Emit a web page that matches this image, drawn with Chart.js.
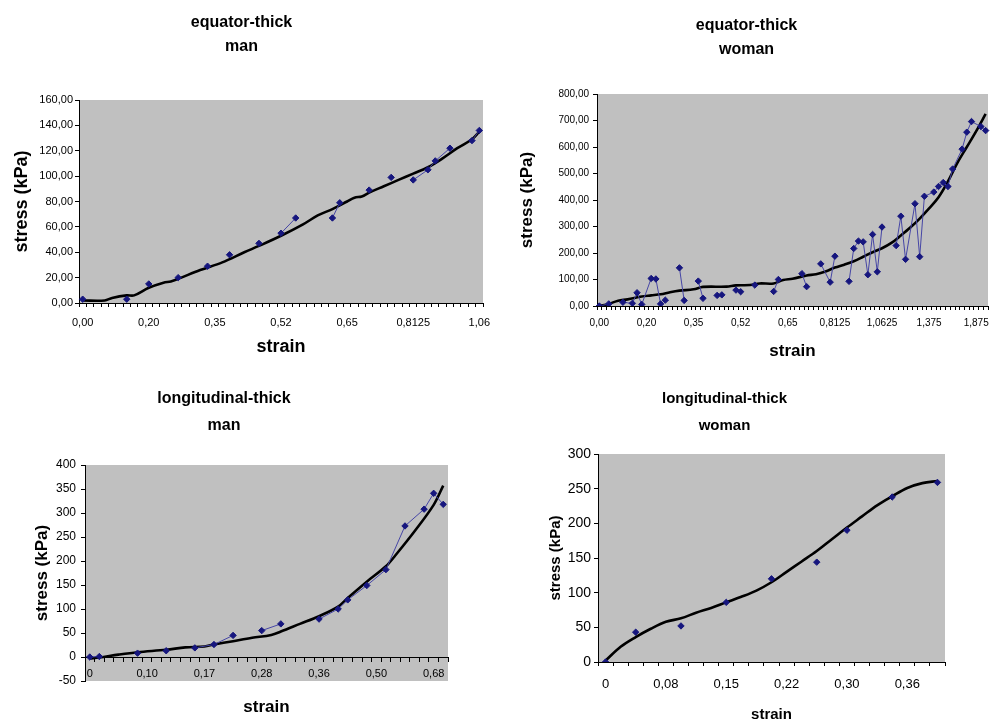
<!DOCTYPE html>
<html>
<head>
<meta charset="utf-8">
<title>stress - strain</title>
<script src="https://cdn.jsdelivr.net/npm/chart.js@4.4.1/dist/chart.umd.min.js"></script>
<style>
  html, body { margin: 0; padding: 0; background: #fff; overflow: hidden; width: 994px; height: 724px; }
  canvas { position: absolute; }
</style>
</head>
<body>
<canvas id="eqMan"></canvas>
<canvas id="eqWoman"></canvas>
<canvas id="lgMan"></canvas>
<canvas id="lgWoman"></canvas>
<script>
const FONT = '"Liberation Sans", Arial, sans-serif';

// equator-thick / man  (55 categories, label every 9th)
const eqManTicks = ['0,00', '0,20', '0,35', '0,52', '0,65', '0,8125', '1,06'];
const eqManIdx = [0, 6, 9, 13, 17, 20, 24, 27, 29, 34, 35, 39, 42, 45, 47, 48, 50, 53, 54];
const eqManStress = [3, 3, 15, 20, 29, 38, 47, 55, 67, 67, 79, 89, 99, 97, 105, 112, 122, 128, 136];
const eqManFitIdx = [0, 3, 4, 6, 7, 9, 11, 12, 13, 16, 19, 22, 24, 27, 30, 32, 34, 36, 37, 38, 39, 41, 43, 45, 47, 49, 51, 53, 54];
const eqManFit = [2, 2, 4, 6, 6, 12, 16, 17, 19, 26, 32, 40, 45, 53, 62, 69, 74, 80, 83, 84, 87, 92, 97, 102, 107, 114, 122, 129, 135];

// equator-thick / woman  (83 categories, label every 10th)
const eqWomTicks = ['0,00', '0,20', '0,35', '0,52', '0,65', '0,8125', '1,0625', '1,375', '1,875'];
const eqWomIdx = [0, 2, 5, 7, 8, 9, 11, 12, 13, 14, 17, 18, 21, 22, 25, 26, 29, 30, 33, 37, 38, 43, 44, 47, 49, 50,
  53, 54, 55, 56, 57, 58, 59, 60, 63, 64, 65, 67, 68, 69, 71, 72, 73, 74, 75, 77, 78, 79, 81, 82];
const eqWomStress = [0, 8, 14, 10, 50, 6, 104, 102, 8, 22, 144, 21, 94, 29, 40, 42, 60, 54, 79, 55, 100, 122, 73, 159, 90, 188,
  93, 217, 245, 242, 118, 270, 129, 298, 228, 339, 176, 386, 186, 414, 430, 451, 466, 451, 517, 592, 656, 696, 677, 662];
const eqWomFitIdx = [0, 2, 4, 6, 9, 11, 13, 15, 17, 20, 22, 27, 29, 32, 34, 37, 39, 41, 44, 46, 48, 50, 52, 54, 56, 58, 60,
  62, 64, 66, 68, 70, 72, 74, 76, 78, 80, 82];
const eqWomFit = [0, 8, 20, 25, 36, 40, 44, 52, 58, 63, 72, 73, 78, 79, 85, 85, 98, 103, 115, 120, 130, 145, 156, 169, 186, 203, 218,
  238, 266, 296, 330, 368, 410, 470, 540, 600, 660, 725];

// longitudinal-thick / man  (38 categories, label every 6th)
const lgManTicks = ['0', '0,10', '0,17', '0,28', '0,36', '0,50', '0,68'];
const lgManIdx = [0, 1, 5, 8, 11, 13, 15, 18, 20, 24, 26, 27, 29, 31, 33, 35, 36, 37];
const lgManStress = [0, 1, 8, 13, 19, 26, 45, 55, 69, 79, 100, 119, 149, 182, 273, 308, 341, 318];
const lgManFitIdx = [0, 1, 3, 5, 8, 10, 12, 13, 15, 17, 19, 20, 22, 24, 26, 27, 29, 31, 32, 34, 36, 37];
const lgManFit = [-3, -1, 5, 10, 15, 20, 22, 26, 33, 40, 46, 53, 69, 85, 105, 123, 157, 189, 212, 262, 317, 357];

// longitudinal-thick / woman  (23 categories, label every 4th)
const lgWomTicks = ['0', '0,08', '0,15', '0,22', '0,30', '0,36'];
const lgWomIdx = [0, 2, 5, 8, 11, 14, 16, 19, 22];
const lgWomStress = [0, 43, 52, 86, 120, 144, 190, 238, 259];
const lgWomFitIdx = [0, 1, 2, 3, 4, 5, 6, 7, 8, 9, 10, 11, 12, 13, 14, 15, 16, 17, 18, 19, 20, 21, 22];
const lgWomFit = [2, 22, 36, 48, 58, 63, 71, 78, 86, 94, 103, 115, 130, 145, 160, 177, 194, 210, 226, 239, 251, 258, 261];

// grey plot area like the Excel charts
const plotBg = {
  id: 'plotBg',
  beforeDraw(chart) {
    const { ctx, chartArea: a } = chart;
    ctx.save();
    ctx.fillStyle = '#c0c0c0';
    ctx.fillRect(a.left, a.top, a.right - a.left, a.bottom - a.top);
    ctx.restore();
  }
};

function categoryLabels(n, step, ticks) {
  return Array.from({ length: n }, (_, i) => (i % step === 0 && ticks[i / step] !== undefined) ? ticks[i / step] : '');
}

function place(n, idx, vals) {
  const out = new Array(n).fill(null);
  idx.forEach((i, k) => { out[i] = vals[k]; });
  return out;
}

const comma2 = v => v.toFixed(2).replace('.', ',');
const plain = v => String(v);

// hide the thin link between two measured points that are far apart
function gapColor(data, join) {
  return s => {
    let a = s.p0DataIndex;
    while (a > 0 && data[a] == null) a--;
    let b = s.p1DataIndex;
    while (b < data.length - 1 && data[b] == null) b++;
    return (b - a > join) ? 'rgba(0,0,0,0)' : undefined;
  };
}

function drawChart(id, c) {
  const canvas = document.getElementById(id);
  canvas.width = c.box.w;
  canvas.height = c.box.h;
  canvas.style.left = c.box.x + 'px';
  canvas.style.top = c.box.y + 'px';

  const measured = place(c.count, c.idx, c.stress);

  new Chart(canvas, {
    type: 'line',
    data: {
      labels: categoryLabels(c.count, c.step, c.ticks),
      datasets: [
        {
          data: measured,
          borderColor: '#4646a6',
          borderWidth: 1,
          pointStyle: 'rectRot',
          pointRadius: 3.2,
          pointBackgroundColor: '#16167e',
          pointBorderColor: '#16167e',
          spanGaps: true,
          segment: { borderColor: gapColor(measured, c.join) },
          order: 0
        },
        {
          data: place(c.count, c.fitIdx, c.fit),
          borderColor: '#000',
          borderWidth: 2.6,
          pointRadius: 0,
          tension: 0.35,
          spanGaps: true,
          order: 1
        }
      ]
    },
    options: {
      responsive: false,
      animation: false,
      devicePixelRatio: 1,
      layout: { padding: c.pad },
      plugins: {
        legend: { display: false },
        tooltip: { enabled: false },
        title: {
          display: true,
          text: c.title,
          color: '#000',
          font: { family: FONT, size: c.titleSize, weight: 'bold', lineHeight: c.titleLine },
          padding: c.titlePad
        }
      },
      scales: {
        x: {
          type: 'category',
          offset: true,
          position: c.xAtZero ? { y: 0 } : 'bottom',
          afterFit: s => { s.height = c.xHeight; },
          border: { color: '#000', width: 1 },
          grid: { offset: true, drawOnChartArea: false, color: '#000', tickLength: 4 },
          ticks: { autoSkip: false, maxRotation: 0, padding: c.xTickPad, color: '#000', font: { family: FONT, size: c.xFont } },
          title: {
            display: true, text: 'strain', color: '#000',
            font: { family: FONT, size: c.axisSize, weight: 'bold' },
            padding: { top: 0, bottom: c.xTitlePad }
          }
        },
        y: {
          min: c.yMin,
          max: c.yMax,
          afterFit: s => { s.width = c.yWidth; },
          border: { color: '#000', width: 1 },
          grid: { drawOnChartArea: false, color: '#000', tickLength: 4 },
          ticks: { stepSize: c.yStep, padding: c.yTickPad, color: '#000', font: { family: FONT, size: c.yFont }, callback: c.yFormat },
          title: {
            display: true, text: 'stress (kPa)', color: '#000',
            font: { family: FONT, size: c.axisSize, weight: 'bold' },
            padding: { top: c.yTitlePad, bottom: 0 }
          }
        }
      }
    },
    plugins: [plotBg]
  });
}

drawChart('eqMan', {
  box: { x: 0, y: 0, w: 510, h: 362 },
  title: ['equator-thick', 'man'], titleSize: 16, titleLine: 1.5, titlePad: { top: 11, bottom: 41 },
  count: 55, step: 9, ticks: eqManTicks,
  idx: eqManIdx, stress: eqManStress, fitIdx: eqManFitIdx, fit: eqManFit, join: 2,
  pad: { left: 0, right: 27, top: 0, bottom: 0 },
  yMin: 0, yMax: 160, yStep: 20, yFormat: comma2,
  yWidth: 79, xHeight: 59, yTitlePad: 11, xTitlePad: 4,
  axisSize: 18, yFont: 11, xFont: 11, xTickPad: 9, yTickPad: 2
});

drawChart('eqWoman', {
  box: { x: 505, y: 0, w: 510, h: 362 },
  title: ['equator-thick', 'woman'], titleSize: 16, titleLine: 1.5, titlePad: { top: 14, bottom: 32 },
  count: 83, step: 10, ticks: eqWomTicks,
  idx: eqWomIdx, stress: eqWomStress, fitIdx: eqWomFitIdx, fit: eqWomFit, join: 2,
  pad: { left: 0, right: 27, top: 0, bottom: 0 },
  yMin: 0, yMax: 800, yStep: 100, yFormat: comma2,
  yWidth: 92, xHeight: 56, yTitlePad: 12, xTitlePad: 0,
  axisSize: 17, yFont: 10, xFont: 10, xTickPad: 7, yTickPad: 4
});

drawChart('lgMan', {
  box: { x: 0, y: 362, w: 506, h: 362 },
  title: ['longitudinal-thick', 'man'], titleSize: 16, titleLine: 1.6875, titlePad: { top: 23, bottom: 26 },
  count: 38, step: 6, ticks: lgManTicks,
  idx: lgManIdx, stress: lgManStress, fitIdx: lgManFitIdx, fit: lgManFit, join: 2,
  pad: { left: 0, right: 58, top: 0, bottom: 43 },
  xAtZero: true,
  yMin: -50, yMax: 400, yStep: 50, yFormat: plain,
  yWidth: 85, xHeight: 61, yTitlePad: 32, xTitlePad: 0,
  axisSize: 17, yFont: 12, xFont: 11, xTickPad: 6, yTickPad: 5
});

drawChart('lgWoman', {
  box: { x: 504, y: 362, w: 500, h: 362 },
  title: ['longitudinal-thick', 'woman'], titleSize: 15, titleLine: 1.8, titlePad: { top: 23, bottom: 15 },
  count: 23, step: 4, ticks: lgWomTicks,
  idx: lgWomIdx, stress: lgWomStress, fitIdx: lgWomFitIdx, fit: lgWomFit, join: 1,
  pad: { left: 0, right: 59, top: 0, bottom: 0 },
  yMin: 0, yMax: 300, yStep: 50, yFormat: plain,
  yWidth: 94, xHeight: 62, yTitlePad: 43, xTitlePad: 0,
  axisSize: 15, yFont: 14, xFont: 13, xTickPad: 11, yTickPad: 3
});
</script>
</body>
</html>
